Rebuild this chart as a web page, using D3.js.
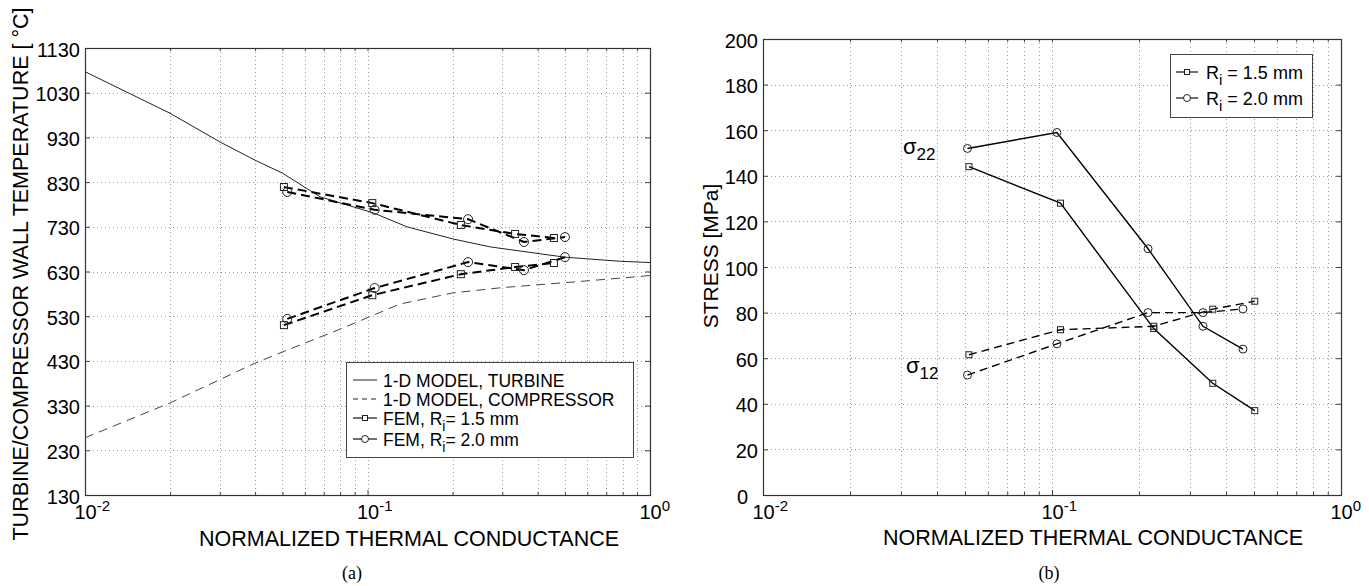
<!DOCTYPE html>
<html>
<head>
<meta charset="utf-8">
<script src="https://cdn.jsdelivr.net/npm/d3@7"></script>
<style>
  body { margin: 0; background: #fff; }
  text { font-family: "Liberation Sans", Arial, Helvetica, sans-serif; fill: #000; }
</style>
</head>
<body>
<svg id="chart" width="1369" height="586"></svg>
<script>
// ---- data ----
const decades = [0.01, 0.1, 1];
const tempTicks = [130, 230, 330, 430, 530, 630, 730, 830, 930, 1030, 1130];
const stressTicks = [0, 20, 40, 60, 80, 100, 120, 140, 160, 180, 200];

// (a) 1-D model curves
const turbX = [0.01, 0.02, 0.03, 0.04, 0.05, 0.068, 0.105, 0.138, 0.2, 0.272, 0.5, 0.78, 1.0];
const turbY = [1077, 984, 920, 879, 850, 797, 761, 730, 703, 685, 662, 653, 650];
const compX = [0.01, 0.02, 0.04, 0.05, 0.08, 0.13, 0.2, 0.3, 0.5, 0.78, 1.0];
const compY = [258, 336, 425, 450, 501, 557, 582, 594, 605, 615, 621];

// (a) FEM points
const femX15 = [0.0506, 0.104, 0.214, 0.333, 0.457];
const femX20 = [0.052, 0.106, 0.227, 0.358, 0.50];
const femTurb15 = [819, 783, 734, 714, 705];
const femTurb20 = [808, 768, 747, 696, 707];
const femComp15 = [510, 577, 624, 640, 649];
const femComp20 = [524, 593, 651, 633, 662];

// (b) stresses
const stressX15 = [0.0516, 0.107, 0.225, 0.36, 0.503];
const stressX20 = [0.051, 0.104, 0.215, 0.333, 0.458];
const s22_15 = [144, 128, 73, 49, 37];
const s22_20 = [152, 159, 108, 74, 64];
const s12_15 = [61.5, 72.5, 74, 81.5, 85];
const s12_20 = [52.6, 66.3, 80, 80, 81.6];

const svg = d3.select('#chart');
svg.append('rect').attr('width', 1369).attr('height', 586).attr('fill', '#fff');

const minorTicks = [];
[0.01, 0.1].forEach(d => { for (let k = 2; k <= 9; k++) minorTicks.push(d * k); });

function panel(opt) {
  const x = d3.scaleLog().domain([0.01, 1]).range([opt.left, opt.right]);
  const y = d3.scaleLinear().domain(opt.yDomain).range([opt.bottom, opt.top]);
  const g = svg.append('g');

  // dotted grid
  const grid = g.append('g').attr('stroke', '#9a9a9a').attr('stroke-width', 1)
    .attr('stroke-dasharray', '1,3');
  grid.selectAll('.vx').data(minorTicks.concat([0.1])).enter().append('line')
    .attr('x1', d => Math.round(x(d)) + 0.5).attr('x2', d => Math.round(x(d)) + 0.5)
    .attr('y1', opt.top).attr('y2', opt.bottom);
  grid.selectAll('.hy').data(opt.yTicks.slice(1, -1)).enter().append('line')
    .attr('y1', d => Math.round(y(d)) + 0.5).attr('y2', d => Math.round(y(d)) + 0.5)
    .attr('x1', opt.left).attr('x2', opt.right);

  // axes with inward ticks
  const axisStyle = sel => {
    sel.select('.domain').remove();
    sel.selectAll('line').attr('stroke', '#444');
  };
  g.append('g').attr('transform', `translate(0,${opt.bottom})`)
    .call(d3.axisBottom(x).tickValues(minorTicks).tickSize(-3).tickFormat(''))
    .call(axisStyle);
  g.append('g').attr('transform', `translate(0,${opt.top})`)
    .call(d3.axisTop(x).tickValues(minorTicks.concat(decades)).tickSize(-3).tickFormat(''))
    .call(axisStyle);
  const xMaj = g.append('g').attr('transform', `translate(0,${opt.bottom})`)
    .call(d3.axisBottom(x).tickValues(decades).tickSize(-5).tickPadding(5).tickFormat(() => ''))
    .call(axisStyle);
  xMaj.selectAll('.tick text').each(function (d) {
    const t = d3.select(this).attr('font-size', 20).attr('font-family', null)
      .attr('dy', '0.95em').attr('text-anchor', 'start').attr('x', -11);
    t.text('10');
    t.append('tspan').attr('dy', '-0.55em').attr('font-size', 15).text(Math.round(Math.log10(d)));
  });
  const yAx = g.append('g').attr('transform', `translate(${opt.left},0)`)
    .call(d3.axisLeft(y).tickValues(opt.yTicks).tickSize(-5).tickPadding(5).tickFormat(d3.format('d')))
    .call(axisStyle);
  yAx.selectAll('text').attr('font-size', 20).attr('font-family', null).attr('dy', '0.4em');
  // the zero label sits a little further left, clear of the 10^-2 label
  yAx.selectAll('.tick').filter(d => d === 0).select('text').attr('x', -15);
  g.append('g').attr('transform', `translate(${opt.right},0)`)
    .call(d3.axisRight(y).tickValues(opt.yTicks).tickSize(-5).tickFormat(''))
    .call(axisStyle);

  g.append('rect').attr('x', opt.left + 0.5).attr('y', opt.top + 0.5)
    .attr('width', opt.right - opt.left).attr('height', opt.bottom - opt.top)
    .attr('fill', 'none').attr('stroke', '#333').attr('stroke-width', 1.2);

  return { x, y, g };
}

function drawLine(p, xs, ys, style) {
  const line = d3.line().x(d => p.x(d[0])).y(d => p.y(d[1]));
  p.g.append('path').datum(d3.zip(xs, ys)).attr('d', line)
    .attr('fill', 'none').attr('stroke', style.color || '#000')
    .attr('stroke-width', style.width).attr('stroke-dasharray', style.dash || null);
}

function drawMarkers(p, xs, ys, type, size) {
  const pts = d3.zip(xs, ys);
  if (type === 'square') {
    p.g.append('g').selectAll('rect').data(pts).enter().append('rect')
      .attr('x', d => p.x(d[0]) - size / 2).attr('y', d => p.y(d[1]) - size / 2)
      .attr('width', size).attr('height', size)
      .attr('fill', 'none').attr('stroke', '#222').attr('stroke-width', 1);
  } else {
    p.g.append('g').selectAll('circle').data(pts).enter().append('circle')
      .attr('cx', d => p.x(d[0])).attr('cy', d => p.y(d[1])).attr('r', size / 2)
      .attr('fill', 'none').attr('stroke', '#222').attr('stroke-width', 1);
  }
}

// ---------- panel (a) ----------
const pa = panel({ left: 85, right: 650, top: 48, bottom: 495,
  yDomain: [130, 1130], yTicks: tempTicks });

drawLine(pa, turbX, turbY, { width: 1, color: '#222' });
drawLine(pa, compX, compY, { width: 1, color: '#444', dash: '9,6' });
const femDash = { width: 2, dash: '9,5' };
drawLine(pa, femX15, femTurb15, femDash);
drawLine(pa, femX20, femTurb20, femDash);
drawLine(pa, femX15, femComp15, femDash);
drawLine(pa, femX20, femComp20, femDash);
drawMarkers(pa, femX15, femTurb15, 'square', 7);
drawMarkers(pa, femX15, femComp15, 'square', 7);
drawMarkers(pa, femX20, femTurb20, 'circle', 9);
drawMarkers(pa, femX20, femComp20, 'circle', 9);

// legend (a)
const la = svg.append('g');
la.append('rect').attr('x', 346.5).attr('y', 362.5).attr('width', 287).attr('height', 95)
  .attr('fill', '#fff').attr('stroke', '#444');
const legA = [
  { label: '1-D MODEL, TURBINE', dash: null, width: 1 },
  { label: '1-D MODEL, COMPRESSOR', dash: '5,4', width: 1 },
  { label: 'FEM, R', sub: 'i', rest: '= 1.5 mm', dash: null, width: 1.3, marker: 'square' },
  { label: 'FEM, R', sub: 'i', rest: '= 2.0 mm', dash: null, width: 1.3, marker: 'circle' }
];
const legAy = [380, 399, 418, 439];
legA.forEach((d, i) => {
  const yy = legAy[i];
  la.append('line').attr('x1', 353).attr('x2', 377).attr('y1', yy).attr('y2', yy)
    .attr('stroke', '#222').attr('stroke-width', d.width).attr('stroke-dasharray', d.dash);
  if (d.marker === 'square') {
    la.append('rect').attr('x', 362.5).attr('y', yy - 2.5).attr('width', 5).attr('height', 5)
      .attr('fill', '#fff').attr('stroke', '#222');
  } else if (d.marker === 'circle') {
    la.append('circle').attr('cx', 365).attr('cy', yy).attr('r', 3.5)
      .attr('fill', '#fff').attr('stroke', '#222');
  }
  const t = la.append('text').attr('x', 383).attr('y', yy + 6.5).attr('font-size', 17.5).text(d.label);
  if (d.sub) {
    t.append('tspan').attr('dy', 6).attr('font-size', 14).text(d.sub);
    t.append('tspan').attr('dy', -6).text(d.rest);
  }
});

svg.append('text').attr('transform', 'translate(28,274) rotate(-90)')
  .attr('text-anchor', 'middle').attr('font-size', 21.5)
  .text('TURBINE/COMPRESSOR WALL TEMPERATURE [ \u00B0C]');
svg.append('text').attr('x', 409).attr('y', 546).attr('text-anchor', 'middle')
  .attr('font-size', 21.5).text('NORMALIZED THERMAL CONDUCTANCE');
svg.append('text').attr('x', 352).attr('y', 579).attr('text-anchor', 'middle')
  .attr('font-size', 18).style('font-family', '"Liberation Serif", "Times New Roman", serif').text('(a)');

// ---------- panel (b) ----------
const pb = panel({ left: 763, right: 1341, top: 39, bottom: 495,
  yDomain: [0, 200], yTicks: stressTicks });

drawLine(pb, stressX15, s22_15, { width: 1.4 });
drawLine(pb, stressX20, s22_20, { width: 1.4 });
drawLine(pb, stressX15, s12_15, { width: 1.4, dash: '8,5' });
drawLine(pb, stressX20, s12_20, { width: 1.4, dash: '8,5' });
drawMarkers(pb, stressX15, s22_15, 'square', 6);
drawMarkers(pb, stressX15, s12_15, 'square', 6);
drawMarkers(pb, stressX20, s22_20, 'circle', 8);
drawMarkers(pb, stressX20, s12_20, 'circle', 8);

// legend (b)
const lb = svg.append('g');
lb.append('rect').attr('x', 1170.5).attr('y', 54.5).attr('width', 142).attr('height', 63)
  .attr('fill', '#fff').attr('stroke', '#444');
[{ rest: ' = 1.5 mm', marker: 'square', y: 72 }, { rest: ' = 2.0 mm', marker: 'circle', y: 98 }]
  .forEach(d => {
    lb.append('line').attr('x1', 1176).attr('x2', 1198).attr('y1', d.y).attr('y2', d.y)
      .attr('stroke', '#222').attr('stroke-width', 1.3);
    if (d.marker === 'square') {
      lb.append('rect').attr('x', 1184.5).attr('y', d.y - 2.5).attr('width', 5).attr('height', 5)
        .attr('fill', '#fff').attr('stroke', '#222');
    } else {
      lb.append('circle').attr('cx', 1187).attr('cy', d.y).attr('r', 3.5)
        .attr('fill', '#fff').attr('stroke', '#222');
    }
    const t = lb.append('text').attr('x', 1206).attr('y', d.y + 6.5).attr('font-size', 18).text('R');
    t.append('tspan').attr('dy', 6).attr('font-size', 15).text('i');
    t.append('tspan').attr('dy', -6).text(d.rest);
  });

function sigma(xp, yp, sub) {
  const t = svg.append('text').attr('x', xp).attr('y', yp).attr('font-size', 22).text('\u03C3');
  t.append('tspan').attr('dy', 6).attr('font-size', 17).text(sub);
}
sigma(903, 154, '22');
sigma(906, 373, '12');

svg.append('text').attr('transform', 'translate(718,256) rotate(-90)')
  .attr('text-anchor', 'middle').attr('font-size', 21).text('STRESS [MPa]');
svg.append('text').attr('x', 1093).attr('y', 545).attr('text-anchor', 'middle')
  .attr('font-size', 21.5).text('NORMALIZED THERMAL CONDUCTANCE');
svg.append('text').attr('x', 1049).attr('y', 579).attr('text-anchor', 'middle')
  .attr('font-size', 18).style('font-family', '"Liberation Serif", "Times New Roman", serif').text('(b)');
</script>
</body>
</html>
